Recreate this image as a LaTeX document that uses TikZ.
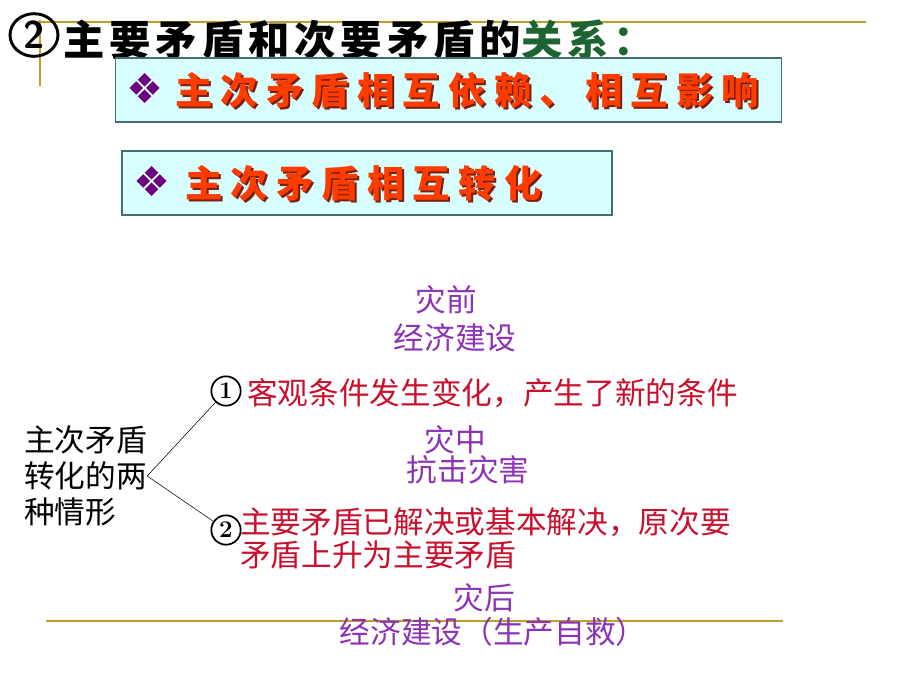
\documentclass[tikz,border=0pt]{standalone}
\usepackage{fontspec}
\newfontfamily\cjk{Noto Sans CJK SC}
\newfontfamily\dingfont{DejaVu Sans}
\usetikzlibrary{positioning,shapes.geometric}
\definecolor{rulegold}{RGB}{188,160,40}
\definecolor{boxcyan}{RGB}{215,255,255}
\definecolor{boxedge}{RGB}{70,110,110}
\definecolor{callired}{RGB}{255,60,0}
\definecolor{callishade}{RGB}{120,30,20}
\definecolor{crimson}{RGB}{200,16,46}
\definecolor{plum}{RGB}{140,50,180}
\definecolor{keygreen}{RGB}{30,100,50}
\definecolor{gem}{RGB}{110,0,130}
\tikzset{
  rule/.style={draw=rulegold,line width=2.2pt},
  slidebox/.style={draw=boxedge,fill=boxcyan,line width=0.8pt,minimum height=48pt},
  calli/.style={anchor=west,inner sep=0pt,text=callired,
    font=\cjk\bfseries\fontsize{28}{28}\selectfont\addfontfeature{LetterSpace=22}},
  callishadow/.style={calli,text=callishade},
  gemnode/.style={anchor=west,inner sep=0pt,text=gem,font=\dingfont\fontsize{31}{31}\selectfont},
  numcirc/.style={circle,draw,line width=1.3pt,inner sep=0pt,minimum size=22pt,
    font=\bfseries\fontsize{18}{18}\selectfont},
  redtext/.style={anchor=west,inner sep=0pt,text=crimson,font=\cjk\fontsize{23}{26}\selectfont},
  stage/.style={inner sep=0pt,text=plum,font=\cjk\fontsize{23}{26}\selectfont}
}
\begin{document}
\begin{tikzpicture}[x=0.75pt,y=-0.75pt]
\useasboundingbox (0,0) rectangle (920,690);
% rules of the slide
\coordinate (ra) at (38,22);
\coordinate (rb) at (866,22);
\coordinate (rc) at (40,20);
\coordinate (rd) at (40,86);
\coordinate (re) at (46,621);
\coordinate (rf) at (783,621);
\draw[rule] (ra) -- (rb);
\draw[rule,line width=1.6pt] (rc) -- (rd);
\draw[rule] (re) -- (rf);

% title
\node[ellipse,draw,line width=2.2pt,minimum width=36pt,minimum height=32pt,inner sep=0pt,
  font=\sffamily\bfseries\fontsize{29}{29}\selectfont] (tnum) at (34,35) {2};
\node[anchor=west,inner sep=0pt,font=\cjk\bfseries\fontsize{31}{31}\selectfont\addfontfeature{LetterSpace=12}]
  (title) at (63,40) {主要矛盾和次要矛盾的\textcolor{keygreen}{关系：}};

% the two boxes
\node[slidebox,minimum width=500pt] (boxa) at (448.5,90) {};
\node[gemnode] (gema) at (126,88) {❖};
\node[callishadow] (shada) at (177,92) {主次矛盾相互依赖、相互影响};
\node[calli] (texta) at (175,90) {主次矛盾相互依赖、相互影响};

\node[slidebox,minimum width=367.5pt] (boxb) at (367,183) {};
\node[gemnode] (gemb) at (133,181) {❖};
\node[callishadow] (shadb) at (187,185) {主次矛盾相互转化};
\node[calli] (textb) at (185,183) {主次矛盾相互转化};

% two cases of the change
\node[anchor=west,inner sep=0pt,align=left,font=\cjk\fontsize{23}{27}\selectfont]
  (root) at (24,476) {主次矛盾\\转化的两\\种情形};
\node[numcirc] (one) at (226,391) {1};
\node[numcirc] (two) at (226,530) {2};
\node[redtext] (onetext) at (247,393) {客观条件发生变化，产生了新的条件};
\node[redtext,anchor=north west,align=left] (twotext) at (240,507)
  {主要矛盾已解决或基本解决，原次要\\[-1pt]矛盾上升为主要矛盾};
\draw (root.east) -- (one);
\draw (root.east) -- (two);

% disaster stages
\node[stage] (pre) at (446,300) {灾前};
\node[stage] (prew) at (455,338) {经济建设};
\node[stage] (mid) at (455,440) {灾中};
\node[stage] (midw) at (468,470) {抗击灾害};
\node[stage] (post) at (484,598) {灾后};
\node[stage] (postw) at (493,632) {经济建设（生产自救）};
\end{tikzpicture}
\end{document}
